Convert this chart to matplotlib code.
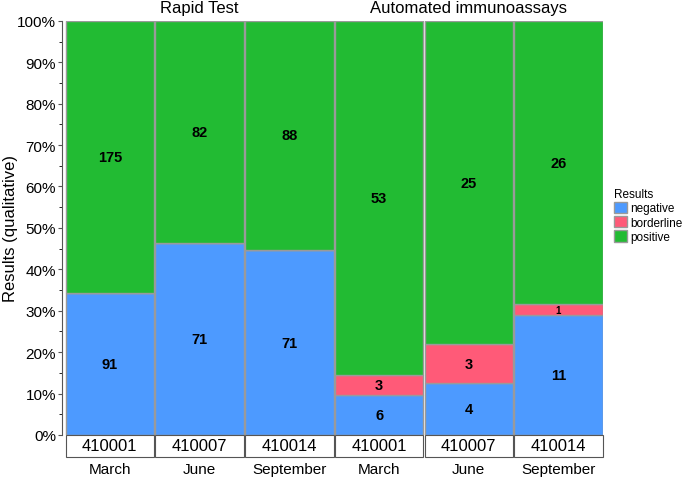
import numpy as np
import matplotlib.pyplot as plt
from matplotlib.patches import Rectangle
from matplotlib.ticker import MultipleLocator, PercentFormatter

plt.rcParams['font.family'] = ['Liberation Sans', 'DejaVu Sans']

lots = ["410001", "410007", "410014", "410001", "410007", "410014"]
months = ["March", "June", "September", "March", "June", "September"]
groups = ["Rapid Test", "Automated immunoassays"]
negative = np.array([91, 71, 71, 6, 4, 11])
borderline = np.array([0, 0, 0, 3, 3, 1])
positive = np.array([175, 82, 88, 53, 25, 26])

colors = {"negative": "#4d9aff", "borderline": "#ff5a78", "positive": "#22bb33"}

total = negative + borderline + positive
fn = negative / total
fb = borderline / total
fp = positive / total

fig = plt.figure(figsize=(6.85, 4.81), dpi=100)
ax = fig.add_axes([0.0949, 0.0936, 0.786, 0.861])
x = np.arange(len(lots))
w = 0.985
ec = "#9a9a9a"
ax.bar(x, fn, w, color=colors["negative"], edgecolor=ec, lw=1, label="negative")
ax.bar(x, fb, w, bottom=fn, color=colors["borderline"], edgecolor=ec, lw=1, label="borderline")
ax.bar(x, fp, w, bottom=fn + fb, color=colors["positive"], edgecolor=ec, lw=1, label="positive")

for i in x:
    ax.text(i, fn[i] / 2, str(negative[i]), ha="center", va="center", fontsize=10.5, fontweight="bold")
    if borderline[i] > 0:
        fs = 10.5 if fb[i] > 0.04 else 7
        ax.text(i, fn[i] + fb[i] / 2, str(borderline[i]), ha="center", va="center", fontsize=fs, fontweight="bold")
    ax.text(i, fn[i] + fb[i] + fp[i] / 2, str(positive[i]), ha="center", va="center", fontsize=10.5, fontweight="bold")
    # lot box below the bar
    ax.add_patch(Rectangle((i - w / 2, -0.053), w, 0.053, facecolor="white", edgecolor="#555555",
                           lw=0.8, clip_on=False))
    ax.text(i, -0.0265, lots[i], ha="center", va="center", fontsize=12)
    ax.text(i, -0.082, months[i], ha="center", va="center", fontsize=11)

ax.text(1, 1.033, groups[0], ha="center", va="center", fontsize=12)
ax.text(4, 1.033, groups[1], ha="center", va="center", fontsize=12)

ax.set_xlim(-0.5, 5.5)
ax.set_ylim(0, 1)
ax.set_xticks([])
ax.yaxis.set_major_locator(MultipleLocator(0.1))
ax.yaxis.set_minor_locator(MultipleLocator(0.05))
ax.yaxis.set_major_formatter(PercentFormatter(1.0, decimals=0))
ax.tick_params(axis="y", labelsize=11, color="#555555", pad=1.5)
ax.tick_params(axis="y", which="major", length=3)
ax.tick_params(axis="y", which="minor", length=2)
for s in ["top", "right", "bottom"]:
    ax.spines[s].set_visible(False)
ax.spines["left"].set_color("#555555")
ax.spines["left"].set_position(("outward", 2))
ax.set_ylabel("Results (qualitative)", fontsize=12)
ax.yaxis.set_label_coords(-0.087, 0.5)

ax.legend(title="Results", loc="center left", bbox_to_anchor=(1.0, 0.53), frameon=False,
          fontsize=8.5, title_fontsize=8.5, handlelength=1.1, handleheight=1.1,
          handletextpad=0.3, labelspacing=0.15, alignment="left")

fig.savefig("out.png", dpi=100)
